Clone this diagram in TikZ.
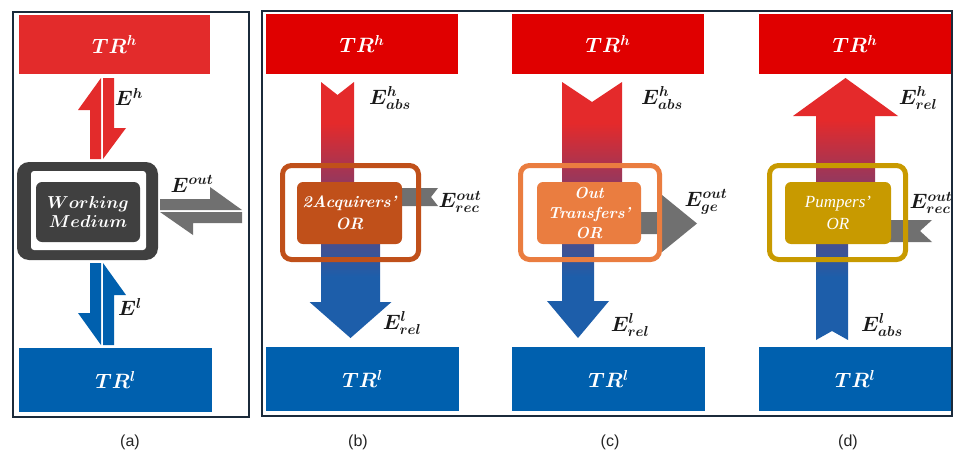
\documentclass[tikz,border=0pt]{standalone}
\usepackage{bm}
\usepackage{fontspec}
\newfontfamily\capfont{Liberation Sans}
\newfontfamily\pumpfont{Liberation Serif}
\definecolor{redA}{HTML}{E32B2B}
\definecolor{redB}{HTML}{E00000}
\definecolor{blueA}{HTML}{0060AE}
\definecolor{grayA}{HTML}{707070}
\definecolor{darkWM}{HTML}{404040}
\definecolor{frameC}{HTML}{1B2A3A}
\definecolor{orB}{HTML}{C0501A}
\definecolor{orC}{HTML}{EA7D40}
\definecolor{orD}{HTML}{C89A00}
\definecolor{gRed}{HTML}{E42A2B}
\definecolor{gPur}{HTML}{7E3C6C}
\definecolor{gBlue}{HTML}{1D5EAA}
\definecolor{lblC}{HTML}{1A1A1A}
\pgfdeclareverticalshading{rbgrad}{100bp}{color(0bp)=(gBlue); color(37bp)=(gBlue); color(52bp)=(gPur); color(67bp)=(gRed); color(100bp)=(gRed)}
\newcommand\lblfont{\fontsize{20}{24}\selectfont}
\newcommand\trfont{\fontsize{20}{24}\selectfont}
\tikzset{
  trnode/.style={inner sep=0pt, text=white, font=\trfont},
  elbl/.style={inner sep=0pt, text=lblC, font=\lblfont},
  frame/.style={draw=frameC, line width=2pt},
  orouter/.style={draw=#1, line width=5pt, rounded corners=9pt, inner sep=0pt, minimum height=94pt},
  orinner/.style={fill=#1, rounded corners=6pt, inner sep=0pt, minimum height=62pt, text=white, align=center},
  grad/.style={shading=rbgrad},
  caption/.style={inner sep=0pt, font=\capfont\fontsize{16}{19}\selectfont, text=black!85}
}
\begin{document}
\begin{tikzpicture}[x=1pt,y=-1pt]
\useasboundingbox (0,0) rectangle (953,450);
\fill[white] (0,0) rectangle (953,450);

% ---------- panel (a) ----------
\draw[frame] (13,12) rectangle (249,417);
\node[trnode, fill=redA, minimum width=191pt, minimum height=59pt] (trha) at (114.5,44.5) {$\bm{TR^{h}}$};
\node[trnode, fill=blueA, minimum width=193pt, minimum height=64pt] (trla) at (115.5,380) {$\bm{TR^{l}}$};
% harpoons
\fill[redA] (90,159) -- (90,110) -- (78,110) -- (101,78) -- (101,159) -- cycle;
\fill[redA] (103,78) -- (114,78) -- (114,128) -- (126,128) -- (103,159) -- cycle;
\fill[blueA] (90,263) -- (101,263) -- (101,345) -- (78,313) -- (90,313) -- cycle;
\fill[blueA] (103,263) -- (126,295) -- (114,295) -- (114,345) -- (103,345) -- cycle;
\fill[grayA] (160,199) -- (210,199) -- (210,187) -- (242,210) -- (160,210) -- cycle;
\fill[grayA] (242,212) -- (242,223) -- (193,223) -- (193,235) -- (160,212) -- cycle;
% working medium
\node[fill=darkWM, rounded corners=12pt, minimum width=141pt, minimum height=98pt, inner sep=0pt] (wmo) at (87.5,211) {};
\node[fill=white, rounded corners=3pt, minimum width=115pt, minimum height=79pt, inner sep=0pt] (wmw) at (88.5,210.5) {};
\node[fill=darkWM, rounded corners=6pt, minimum width=104pt, minimum height=60pt, inner sep=0pt, text=white, align=center, font=\fontsize{17}{20}\selectfont] (wm) at (88,212) {$\bm{Working}$\\[-1pt]$\bm{Medium}$};
\node[elbl] (eha) at (129,97) {$\bm{E^{h}}$};
\node[elbl] (eouta) at (192,184) {$\bm{E^{out}}$};
\node[elbl] (ela) at (130,307) {$\bm{E^{l}}$};
\node[caption] (capa) at (130,442) {(a)};

% ---------- panels (b)-(d) frame ----------
\draw[frame] (262,11) rectangle (951.5,416);

% ---------- panel (b) ----------
\node[trnode, fill=redB, minimum width=192pt, minimum height=60pt] (trhb) at (362,44) {$\bm{TR^{h}}$};
\node[trnode, fill=blueA, minimum width=193pt, minimum height=64pt] (trlb) at (362.5,379) {$\bm{TR^{l}}$};
\fill[grayA] (395,188) -- (438,188) -- (431,197) -- (438,206) -- (395,206) -- cycle;
\shade[grad] (321,82) -- (337.5,95) -- (354,82) -- (354,213) -- (380,213) -- (380,302) -- (391.5,302) -- (350.5,338) -- (309.5,302) -- (321,302) -- cycle;
\node[orouter=orB, minimum width=136pt] (orbo) at (350.5,212.5) {};
\node[orinner=orB, minimum width=105pt, font=\fontsize{16.5}{22}\selectfont\bfseries\itshape] (orb) at (349.5,213) {2Acquirers’\\OR};
\node[elbl] (ehb) at (390,98) {$\bm{E^{h}_{abs}}$};
\node[elbl] (eoutb) at (460,202) {$\bm{E^{out}_{rec}}$};
\node[elbl] (elb) at (402,323) {$\bm{E^{l}_{rel}}$};
\node[caption] (capb) at (358,442) {(b)};

% ---------- panel (c) ----------
\node[trnode, fill=redB, minimum width=192pt, minimum height=60pt] (trhc) at (608,44) {$\bm{TR^{h}}$};
\node[trnode, fill=blueA, minimum width=193pt, minimum height=64pt] (trlc) at (608.5,379) {$\bm{TR^{l}}$};
\fill[grayA] (630,212) -- (662,212) -- (662,195) -- (697,223.5) -- (662,252) -- (662,234) -- (630,234) -- cycle;
\shade[grad] (562,82) -- (592,102) -- (622,82) -- (622,213) -- (594,213) -- (594,301) -- (609,301) -- (578,338) -- (547,301) -- (562,301) -- cycle;
\node[orouter=orC, minimum width=139pt] (orco) at (590,212.5) {};
\node[orinner=orC, minimum width=104pt, font=\fontsize{16}{20}\selectfont\bfseries\itshape] (orc) at (589,213) {Out\\Transfers’\\OR};
\node[elbl] (ehc) at (662,98) {$\bm{E^{h}_{abs}}$};
\node[elbl] (eoutc) at (706,202) {$\bm{E^{out}_{ge}}$};
\node[elbl] (elc) at (630,325) {$\bm{E^{l}_{rel}}$};
\node[caption] (capc) at (610,442) {(c)};

% ---------- panel (d) ----------
\node[trnode, fill=redB, minimum width=192pt, minimum height=60pt] (trhd) at (855,44) {$\bm{TR^{h}}$};
\node[trnode, fill=blueA, minimum width=192pt, minimum height=64pt] (trld) at (855,379) {$\bm{TR^{l}}$};
\fill[grayA] (880,220) -- (932,220) -- (920,231) -- (932,242) -- (880,242) -- cycle;
\shade[grad] (816,340) -- (832,331) -- (848,340) -- (848,213) -- (875,213) -- (875,116) -- (898,116) -- (845.5,78) -- (793,116) -- (816,116) -- cycle;
\node[orouter=orD, minimum width=136pt] (ordo) at (837.5,212.5) {};
\node[orinner=orD, minimum width=106pt, font=\pumpfont\fontsize{17}{22}\selectfont\itshape] (ord) at (838,213) {Pumpers’\\OR};
\node[elbl] (ehd) at (918,98) {$\bm{E^{h}_{rel}}$};
\node[elbl] (eoutd) at (931,203) {$\bm{E^{out}_{rec}}$};
\node[elbl] (eld) at (882,325) {$\bm{E^{l}_{abs}}$};
\node[caption] (capd) at (848,442) {(d)};
\end{tikzpicture}
\end{document}
